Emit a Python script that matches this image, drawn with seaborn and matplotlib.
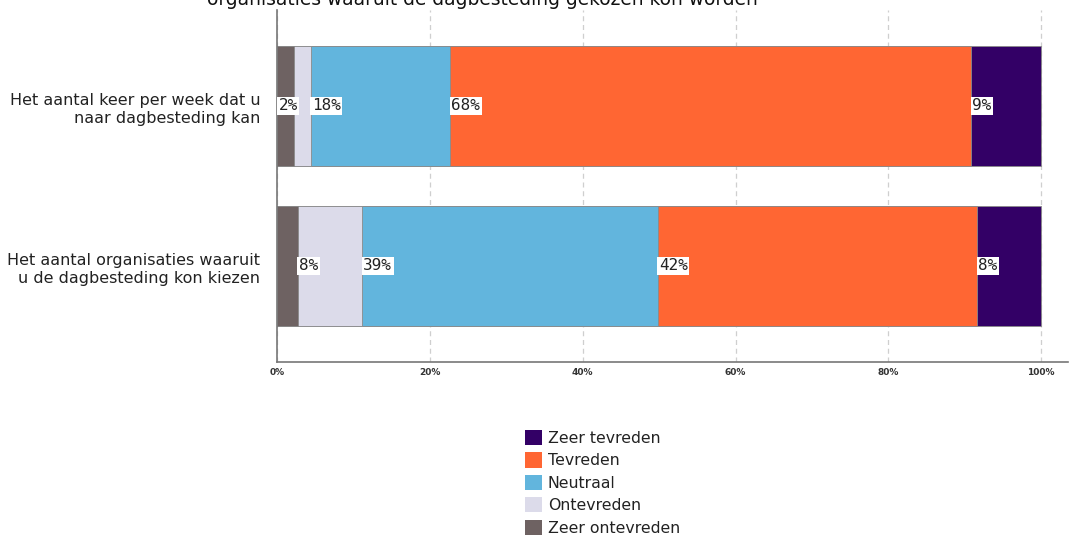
import numpy as np
import pandas as pd
import matplotlib
matplotlib.use("Agg")
import matplotlib.pyplot as plt
import seaborn as sns
from matplotlib.patches import Patch

categories = ["Het aantal keer per week dat u\nnaar dagbesteding kan",
              "Het aantal organisaties waaruit\nu de dagbesteding kon kiezen"]
series_names = ["Zeer ontevreden", "Ontevreden", "Neutraal", "Tevreden", "Zeer tevreden"]
zeer_ontevreden = [2.2, 2.7]
ontevreden = [2.2, 8.4]
neutraal = [18.2, 38.7]
tevreden = [68.2, 41.8]
zeer_tevreden = [9.2, 8.4]
labels_zeer_ontevreden = ["2%", ""]
labels_ontevreden = ["", "8%"]
labels_neutraal = ["18%", "39%"]
labels_tevreden = ["68%", "42%"]
labels_zeer_tevreden = ["9%", "8%"]
tick_values = [0, 20, 40, 60, 80, 100]
tick_labels = ["0%", "20%", "40%", "60%", "80%", "100%"]
title_text = "organisaties waaruit de dagbesteding gekozen kon worden"

colors = ["#6E6262", "#DCDBEA", "#62B5DD", "#FF6633", "#330066"]

sns.set_theme(style="white")
plt.rcParams['font.family'] = ['DejaVu Sans']

values = [zeer_ontevreden, ontevreden, neutraal, tevreden, zeer_tevreden]
labels = [labels_zeer_ontevreden, labels_ontevreden, labels_neutraal,
          labels_tevreden, labels_zeer_tevreden]
vals = np.array(values)
cum = np.cumsum(vals, axis=0)
lefts = cum - vals

fig = plt.figure(figsize=(10.69, 5.38), dpi=100)
ax = fig.add_axes([277/1069, 1-362/538, 1-277/1069-1/1069, (362-10)/538])

# draw stacked bars: largest cumulative first
for i in range(len(series_names)-1, -1, -1):
    df = pd.DataFrame({"cat": categories, "val": cum[i]})
    sns.barplot(data=df, x="val", y="cat", orient="h", color=colors[i],
                width=0.75, saturation=1, edgecolor="#8a8a8a", linewidth=0.6,
                ax=ax, zorder=2)

# value labels at the start of each segment
for i in range(len(series_names)):
    for j in range(len(categories)):
        txt = labels[i][j]
        if txt:
            ax.annotate(txt, xy=(lefts[i][j], j), xytext=(1.0, 0),
                        textcoords="offset points", ha="left", va="center",
                        fontsize=11.5, family="DejaVu Sans Mono", color="#222222",
                        bbox=dict(boxstyle="square,pad=0.1", fc="white", ec="none"),
                        zorder=5)

ax.set_xlim(0, 103.5)
ax.set_ylim(1.6, -0.6)
ax.set_xticks(tick_values)
ax.set_xticklabels(tick_labels, fontsize=6.5, fontweight="bold")
ax.tick_params(axis="x", length=0, pad=4, colors="#333333")
ax.tick_params(axis="y", length=0, pad=12, labelsize=11.5, colors="#222222")
for lab in ax.get_yticklabels():
    lab.set_horizontalalignment("right")
    lab.set_multialignment("right")
    lab.set_linespacing(1.3)
ax.set_xlabel("")
ax.set_ylabel("")
ax.xaxis.grid(True, linestyle=(0, (4, 3)), color="#cfcfcf", linewidth=0.9, zorder=0)
ax.set_axisbelow(True)
for s in ["top", "right"]:
    ax.spines[s].set_visible(False)
ax.spines["left"].set_color("#777777")
ax.spines["bottom"].set_color("#777777")
ax.spines["left"].set_linewidth(1.2)
ax.spines["bottom"].set_linewidth(1.2)

fig.text(482/1069, 1-5/538, title_text, ha="center", va="baseline",
         fontsize=13.4, color="#111111")

handles = [Patch(facecolor=colors[i], edgecolor="none") for i in range(len(series_names)-1, -1, -1)]
leg_labels = [series_names[i] for i in range(len(series_names)-1, -1, -1)]
fig.legend(handles, leg_labels, loc="upper left",
           bbox_to_anchor=(514/1069, 1-419/538), frameon=False,
           fontsize=11.3, handlelength=1.1, handleheight=1.1,
           handletextpad=0.35, labelspacing=0.42, borderpad=0.2,
           labelcolor="#222222")

fig.savefig("out.png", dpi=100)
